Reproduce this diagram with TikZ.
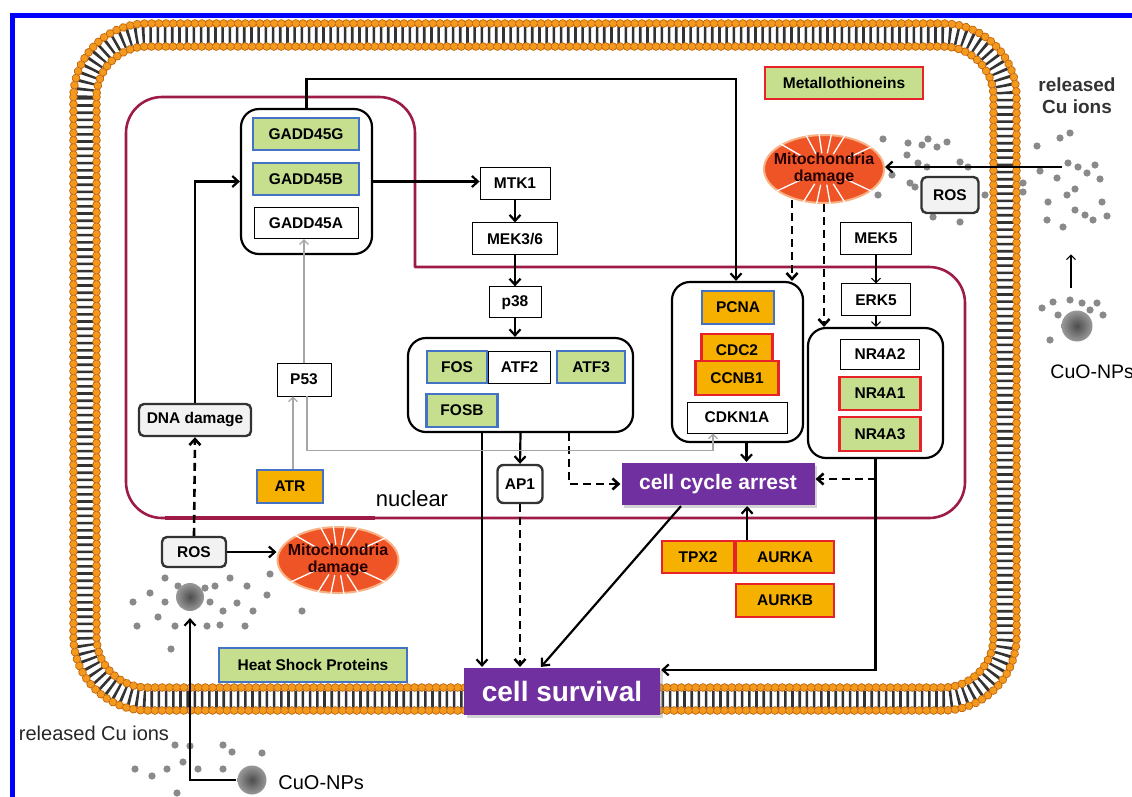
\documentclass[tikz,border=0pt]{standalone}
\usepackage{fontspec}
\setmainfont{Liberation Sans}
\usetikzlibrary{positioning, arrows.meta, shapes.geometric, shadows, calc}

\definecolor{cellgreen}{HTML}{C5DF8E}
\definecolor{cellblue}{HTML}{4472C4}
\definecolor{cellred}{HTML}{E82229}
\definecolor{cellorange}{HTML}{F6B000}
\definecolor{cellpurple}{HTML}{7030A0}
\definecolor{nucred}{HTML}{9E1B47}
\definecolor{lipid}{HTML}{F39A1E}
\definecolor{lipidedge}{HTML}{C2650C}
\definecolor{mitofill}{HTML}{EF5426}
\definecolor{mitoedge}{HTML}{F9B183}
\definecolor{iongray}{HTML}{8A8A8A}

\newcommand{\genefont}{\fontsize{15.5}{17}\selectfont\bfseries}

\begin{document}
\begin{tikzpicture}[x=1pt,y=-1pt,>={Straight Barb[length=6pt,width=11pt]},
	line width=2.2pt,
	gene/.style={draw,line width=0.9pt,fill=white,inner sep=0pt,minimum height=32pt,font=\genefont},
	greenblue/.style={gene,fill=cellgreen,draw=cellblue,line width=2.2pt},
	greenred/.style={gene,fill=cellgreen,draw=cellred,line width=2.2pt},
	orangeblue/.style={gene,fill=cellorange,draw=cellblue,line width=2.2pt},
	orangered/.style={gene,fill=cellorange,draw=cellred,line width=2.2pt},
	group/.style={draw,rounded corners=18pt,line width=2.2pt,fill=white,inner sep=0pt},
	stress/.style={draw=black!80,rounded corners=5pt,line width=2.4pt,fill=black!5,inner sep=0pt,minimum height=32pt,font=\genefont},
	pheno/.style={fill=cellpurple,text=white,inner sep=0pt,drop shadow={opacity=0.35}},
	mito/.style={ellipse,fill=mitofill,draw=mitoedge,line width=2pt,inner sep=0pt},
	mitotext/.style={align=center,font=\fontsize{16}{16.5}\selectfont\bfseries,text=black!85!red},
	np/.style={circle,shading=radial,inner color=black!70,outer color=black!40,inner sep=0pt},
	dashed arrow/.style={->,dash pattern=on 8pt off 5pt,line width=2.6pt},
	gray arrow/.style={->,draw=black!35,line width=1.1pt,>={Straight Barb[length=4.5pt,width=9pt]}},
	thin arrow/.style={->,line width=1.1pt,>={Straight Barb[length=4.5pt,width=9pt]}}]

	\useasboundingbox (0,0) rectangle (1132,796);
	\draw[blue, line width=5pt] (12,800) -- (12,15.5) -- (1140,15.5);

	% cell membrane
	\draw[draw=black!80, line width=17pt, dash pattern=on 2.6pt off 4.6pt, rounded corners=62pt] (85,35) rectangle (1005,699);
	\draw[lipidedge, line width=8.6pt, line cap=round, dash pattern=on 0.01pt off 7.2pt, rounded corners=73.5pt] (73.5,23.5) rectangle (1016.5,710.5);
	\draw[lipid, line width=6.8pt, line cap=round, dash pattern=on 0.01pt off 7.2pt, rounded corners=73.5pt] (73.5,23.5) rectangle (1016.5,710.5);
	\draw[lipidedge, line width=8.6pt, line cap=round, dash pattern=on 0.01pt off 7.2pt, rounded corners=50.5pt] (96.5,46.5) rectangle (993.5,687.5);
	\draw[lipid, line width=6.8pt, line cap=round, dash pattern=on 0.01pt off 7.2pt, rounded corners=50.5pt] (96.5,46.5) rectangle (993.5,687.5);

	% nuclear envelope
	\draw[nucred, line width=2.6pt, rounded corners=36pt, line cap=round] (415,267) -- (965,267) -- (965,518) -- (126,518) -- (126,97) -- (415,97) -- (415,267);
	\draw[nucred, line width=4.5pt] (165,518) -- (375,518);

	% released Cu ions
	\foreach \p in {(883,139),(908,143),(922,145),(928,139),(937,147),(947,142),(907,155),(918,163),(927,167),(960,162),(968,167),(892,175),(910,183),(915,187),(878,195),(985,195),(933,217),(960,222),(1023,183),(1023,192),(1060,138),(1070,133),(1037,146),(1068,163),(1078,167),(1095,165),(1087,173),(1040,171),(1057,178),(1100,179),(1075,189),(1067,195),(1048,202),(1102,202),(1075,210),(1085,215),(1093,220),(1107,216),(1047,220),(1063,227),(1042,308),(1053,302),(1070,300),(1082,303),(1097,303),(1090,310),(1103,315),(1058,315),(1050,340)}
		\fill[iongray] \p circle (3.6pt);
	\foreach \p in {(165,578),(178,586),(205,588),(215,586),(230,578),(247,586),(270,574),(267,595),(150,593),(133,602),(165,602),(210,602),(237,603),(223,611),(253,611),(302,611),(158,617),(137,626),(175,626),(207,626),(220,625),(245,626),(171,649),(175,745),(190,746),(223,745),(232,752),(262,753),(183,762),(135,769),(152,776),(167,769),(198,769),(223,769),(177,793)}
		\fill[iongray] \p circle (3.6pt);

	\node[np, minimum size=28pt] (npin) at (190,597) {};
	\node[np, minimum size=29pt] (npbot) at (252,780) {};
	\node[np, minimum size=31pt] (npright) at (1077,326) {};

	% GADD45 and p38 branch
	\node[group, minimum width=131pt, minimum height=145pt] (gaddgrp) at (306.5,181.5) {};
	\node[greenblue, minimum width=106pt] (gadd45g) at (306,134) {GADD45G};
	\node[greenblue, minimum width=106pt] (gadd45b) [below=11pt of gadd45g] {GADD45B};
	\node[gene, minimum width=104pt, minimum height=31pt] (gadd45a) [below=11pt of gadd45b] {GADD45A};

	\node[gene, minimum width=70pt] (mtk1) at (515,183) {MTK1};
	\node[gene, minimum width=85pt] (mek36) [below=23pt of mtk1] {MEK3/6};
	\node[gene, minimum width=52pt, minimum height=31pt] (p38) [below=31pt of mek36] {p38};

	\node[group, minimum width=225pt, minimum height=94pt] (fosgrp) at (520.5,385) {};
	\node[greenblue, minimum width=60pt] (fos) at (457,367) {FOS};
	\node[gene, minimum width=62pt] (atf2) [right=0pt of fos] {ATF2};
	\node[greenblue, minimum width=68pt] (atf3) [right=5pt of atf2] {ATF3};
	\node[greenblue, minimum width=71pt, minimum height=33pt] (fosb) at (462,410.5) {FOSB};
	\node[stress, minimum width=45pt, minimum height=38pt, fill=white, rounded corners=6pt] (ap1) at (520,484) {AP1};

	\node[gene, minimum width=54pt, minimum height=33pt] (p53) at (304,379.5) {P53};
	\node[orangeblue, minimum width=66pt, minimum height=33pt] (atr) at (290,486.5) {ATR};
	\node[stress, minimum width=112pt] (dna) at (195,420) {DNA damage};
	\node[stress, minimum width=64pt, minimum height=30pt] (ros1) at (194,552) {ROS};

	% mitochondria
	\node[mito, minimum width=121pt, minimum height=66pt] (mito1) at (338,560) {};
	\node[mito, minimum width=120pt, minimum height=68pt] (mito2) at (824,169) {};
	\foreach \m in {mito1, mito2}
		\foreach \a in {25,58,78,98,118,150,205,238,258,280,302,335}
			\draw[white, line width=1.3pt] ($(\m.center)!0.45!(\m.\a)$) -- (\m.\a);
	\node[mitotext] (mito1text) at (mito1) {Mitochondria\\damage};
	\node[mitotext] (mito2text) at (mito2) {Mitochondria\\damage};

	\node[stress, minimum width=57pt, minimum height=36pt] (ros2) at (950,195) {ROS};
	\node[gene, minimum width=71pt] (mek5) at (876,238) {MEK5};
	\node[gene, minimum width=69pt] (erk5) [below=29pt of mek5] {ERK5};
	\node[greenred, minimum width=158pt] (metallo) at (844,83) {Metallothioneins};

	% cell cycle genes
	\node[group, minimum width=131pt, minimum height=160pt] (pcnagrp) at (737.5,362) {};
	\node[orangeblue, minimum width=72pt, minimum height=33pt] (pcna) at (738,307.5) {PCNA};
	\node[orangered, minimum width=71pt, minimum height=33pt] (cdc2) at (737,350.5) {CDC2};
	\node[orangered, minimum width=83pt, minimum height=34pt] (ccnb1) at (737,378) {CCNB1};
	\node[gene, minimum width=100pt, minimum height=31pt] (cdkn1a) at (737,417.5) {CDKN1A};

	\node[group, minimum width=135pt, minimum height=130pt] (nrgrp) at (875.5,393) {};
	\node[gene, minimum width=79pt, minimum height=30pt] (nr4a2) at (880,354) {NR4A2};
	\node[greenred, minimum width=81pt, minimum height=33pt] (nr4a1) at (880,393.5) {NR4A1};
	\node[greenred, minimum width=81pt, minimum height=34pt] (nr4a3) at (880,434) {NR4A3};

	\node[pheno, minimum width=193pt, minimum height=42pt, font=\fontsize{21}{21}\selectfont\bfseries] (arrest) at (718,484) {cell cycle arrest};
	\node[orangered, minimum width=72pt] (tpx2) at (698,557) {TPX2};
	\node[orangered, minimum width=98pt] (aurka) [right=0pt of tpx2] {AURKA};
	\node[orangered, minimum width=98pt, minimum height=33pt] (aurkb) [below=9pt of aurka] {AURKB};

	\node[pheno, minimum width=196pt, minimum height=47pt, font=\fontsize{28}{28}\selectfont\bfseries] (survival) at (562,691.5) {cell survival};
	\node[greenblue, minimum width=188pt, minimum height=34pt] (hsp) at (313,665) {Heat Shock Proteins};

	% labels
	\node[font=\fontsize{22}{22}\selectfont] (nuclabel) at (412,499) {nuclear};
	\node[font=\fontsize{20}{20}\selectfont, text=black!85] (culeft) at (94,733) {released Cu ions};
	\node[font=\fontsize{20}{20}\selectfont, anchor=west] (npbotlabel) at (274,783) {CuO-NPs};
	\node[font=\fontsize{19}{22}\selectfont\bfseries, align=center, text=black!80] (curight) at (1077,96) {released\\Cu ions};
	\node[font=\fontsize{19.5}{20}\selectfont, anchor=west] (nprightlabel) at (1046,372) {CuO-NPs};

	% connectors
	\draw[->] (dna.north) |- (gaddgrp.west);
	\draw[->] (gaddgrp.east) -- (gaddgrp.east -| mtk1.west);
	\draw[->] (mtk1) -- (mek36);
	\draw[->] (mek36) -- (p38);
	\draw[->] (p38.south) -- (p38.south |- fosgrp.north);
	\coordinate (topbend) at (736,79);
	\draw[->] (gaddgrp.north) |- (topbend) -- (topbend |- pcnagrp.north);

	\coordinate (mitoleft) at ($(mito2.south)+(-32,-4)$);
	\draw[dashed arrow] (mitoleft) -- (mitoleft |- pcnagrp.north);
	\draw[dashed arrow] (mito2.south) -- (mito2.south |- nrgrp.north);
	\draw[thin arrow] (mek5) -- (erk5);
	\draw[thin arrow] (erk5) -- (erk5 |- nrgrp.north);

	\coordinate (pcnaout) at ([xshift=9pt]pcnagrp.south);
	\draw[->] (pcnaout) -- (pcnaout |- arrest.north);
	\coordinate (aurkin) at ([xshift=12pt]aurka.north west);
	\draw[->] (aurkin) -- (aurkin |- arrest.south);
	\coordinate (fosout) at ([xshift=48.5pt]fosgrp.south);
	\draw[dashed arrow] (fosout) |- (arrest.west);
	\coordinate (fosleft) at ([xshift=-38.5pt]fosgrp.south);
	\draw[->] (fosleft) -- (fosleft |- survival.north);
	\draw[->] (fosgrp.south) -- (ap1.north);
	\draw[dashed arrow] (ap1.south) -- (ap1.south |- survival.north);
	\coordinate (nrout) at ([yshift=-3pt]survival.north east);
	\draw[->] (nrgrp.south) |- (nrout);
	\coordinate (nrtap) at ([yshift=5pt]arrest.east -| nrgrp.south);
	\draw[dashed arrow] (nrtap) -- (nrtap -| arrest.east);
	\draw[->] ([xshift=-37pt]arrest.south) -- ([xshift=-21pt]survival.north);

	\draw[dashed arrow] (ros1.north) -- (dna.south);
	\draw[->] (ros1.east) -- (ros1.east -| mito1.west);

	\coordinate (atrout) at ([xshift=3pt]atr.north);
	\draw[gray arrow] (atrout) -- (atrout |- p53.south);
	\draw[gray arrow] (p53.north) -- (p53.north |- gadd45a.south);
	\draw[gray arrow] ([xshift=3pt]p53.south) -- ++(0,54) -| ([xshift=-24pt]cdkn1a.south);

	\coordinate (cuR) at (1062,167);
	\draw[->] (cuR) -- (cuR -| mito2.east);
	\draw[thin arrow] ([xshift=-6pt,yshift=21pt]npright.north) -- ++(0,-34);
	\draw[->] (npbot.west) -| ([yshift=-6pt]npin.south);
\end{tikzpicture}
\end{document}
